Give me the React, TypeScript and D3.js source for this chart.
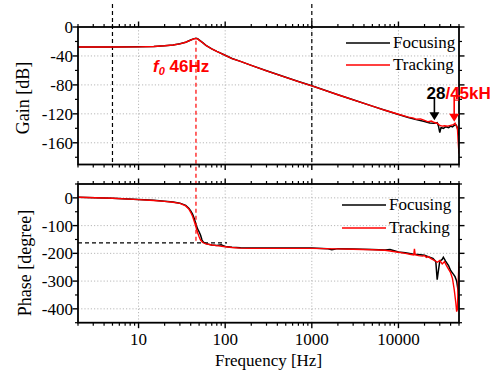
import React from "react";
import * as d3 from "d3";

// ---------- data ----------
const gainFocusing: [number, number][] = [
  [2, -27.6], [5, -27.5], [10, -27.3], [15, -26.8], [20, -25.9], [25, -24.8], [30, -23.2],
  [35, -21.0], [40, -18.0], [43, -16.4], [46, -15.6], [48, -16.2], [50, -17.9], [55, -21.6],
  [60, -25.4], [70, -30.3], [80, -33.7], [100, -39.0], [120, -43.5], [150, -47.5], [200, -53],
  [300, -60.5], [500, -69.5], [700, -75.3], [1000, -81.3], [1500, -88.5], [2000, -93.5],
  [3000, -100.5], [5000, -109.3], [7000, -115], [10000, -121], [13000, -125], [16000, -128],
  [20000, -130.5], [23000, -132.5], [26000, -133], [28000, -132], [29000, -137], [30000, -146],
  [31000, -139], [33000, -140], [35000, -138], [38000, -139], [40000, -137], [42000, -138],
  [44000, -136], [46000, -135], [47000, -137], [48000, -140], [49000, -146], [50000, -150],
];
const gainTracking: [number, number][] = [
  [2, -27.7], [5, -27.6], [10, -27.4], [15, -26.9], [20, -26.0], [25, -24.9], [30, -23.3],
  [35, -21.1], [40, -18.2], [43, -16.6], [46, -15.8], [48, -16.4], [50, -18.1], [55, -21.8],
  [60, -25.5], [70, -30.4], [80, -33.8], [100, -39.1], [120, -43.6], [150, -47.6], [200, -53.1],
  [300, -60.6], [500, -69.6], [700, -75.4], [1000, -81.4], [1500, -88.6], [2000, -93.6],
  [3000, -100.6], [5000, -109.4], [7000, -115.1], [10000, -120.5], [13000, -124.5], [15000, -126],
  [16000, -127.5], [18000, -127], [20000, -129], [22000, -131], [24000, -130], [26000, -132],
  [28000, -133], [30000, -136], [32000, -137], [34000, -136.5], [37000, -137], [40000, -136],
  [43000, -135], [45000, -133], [46000, -136], [47000, -137], [48000, -141], [49000, -160],
  [50000, -175],
];
const phaseFocusing: [number, number][] = [
  [2, 2.5], [5, -1], [10, -6], [15, -9], [20, -12], [25, -15], [30, -19], [35, -27], [38, -37],
  [40, -47], [42, -58], [44, -75], [46, -95], [48, -112], [50, -122], [52, -135], [54, -152],
  [56, -160], [60, -165], [70, -170], [80, -172], [90, -169], [95, -172], [100, -175],
  [120, -178], [150, -180], [200, -181], [500, -181], [1000, -181], [1500, -183], [1700, -187],
  [2000, -183], [3000, -184], [5000, -186], [7000, -188], [8000, -186], [10000, -195],
  [12000, -198], [15000, -203], [18000, -205], [20000, -207], [22000, -212], [25000, -218],
  [27000, -230], [28000, -295], [29000, -260], [30000, -228], [32000, -222], [33000, -214],
  [35000, -228], [38000, -245], [40000, -262], [43000, -275], [45000, -284], [47000, -300],
  [49000, -337], [50000, -367],
];
const phaseTracking: [number, number][] = [
  [2, 2], [5, -1.5], [10, -6.5], [15, -9.5], [20, -12.5], [25, -16], [30, -20], [35, -29],
  [38, -40], [40, -52], [42, -66], [44, -85], [46, -105], [48, -125], [50, -140], [52, -152],
  [55, -161], [60, -166], [70, -170], [80, -172], [100, -176], [120, -179], [150, -181],
  [200, -182], [500, -182], [1000, -182], [2000, -184], [3000, -185], [5000, -187],
  [7000, -189], [10000, -196], [12000, -200], [14000, -204], [15000, -206], [15300, -184],
  [15600, -205], [17000, -208], [19000, -210], [20000, -208], [21000, -215], [22000, -212],
  [24000, -220], [26000, -225], [28000, -232], [30000, -226], [32000, -238], [34000, -230],
  [36000, -245], [38000, -258], [40000, -270], [42000, -290], [44000, -330], [46000, -380],
  [47000, -410], [48000, -400], [49000, -300], [50000, -230],
];

const xMajor = [10, 100, 1000, 10000];
const gainMajor = [0, -40, -80, -120, -160];
const gainMinor = [-20, -60, -100, -140, -180];
const phaseMajor = [0, -100, -200, -300, -400];
const phaseMinor = [50, -50, -150, -250, -350, -450];
const seriesNames = ["Focusing", "Tracking"];
const seriesColors = ["#000000", "#ff0000"];

const W = 493, H = 372;
const L = 78, R = 459;
const gTop = 27, gBot = 164.5, pTop = 184, pBot = 322.7;
const serif = "'Liberation Serif', 'Times New Roman', serif";
const sans = "'Liberation Sans', Arial, sans-serif";

export default function App() {
  const x = d3.scaleLog().domain([2, 50000]).range([L, R]);
  const yG = d3.scaleLinear().domain([-190, 0]).range([gBot, gTop]);
  const yP = d3.scaleLinear().domain([-450, 50]).range([pBot, pTop]);

  const xMinor: number[] = [];
  for (let dec = 1; dec <= 10000; dec *= 10)
    for (let m = 1; m <= 9; m++) {
      const v = m * dec;
      if (v >= 2 && v <= 50000 && m !== 1) xMinor.push(v);
    }

  const lineG = d3.line<[number, number]>().x(d => x(d[0])).y(d => yG(d[1]));
  const lineP = d3.line<[number, number]>().x(d => x(d[0])).y(d => yP(d[1]));

  const grid = { stroke: "#b8b8b8", strokeWidth: 1, strokeDasharray: "1.2,2" };

  const panel = (top: number, bot: number, y: d3.ScaleLinear<number, number>, major: number[], minor: number[]) => (
    <g>
      {xMajor.map(v => <line key={"gx" + v} x1={x(v)} x2={x(v)} y1={top} y2={bot} {...grid} />)}
      {major.filter(v => y(v) > top + 1 && y(v) < bot - 1).map(v => <line key={"gy" + v} x1={L} x2={R} y1={y(v)} y2={y(v)} {...grid} />)}
      {xMinor.map(v => (
        <g key={"xm" + v}>
          <line x1={x(v)} x2={x(v)} y1={bot} y2={bot + 3} stroke="#000" strokeWidth={1.2} />
          <line x1={x(v)} x2={x(v)} y1={top} y2={top - 3} stroke="#000" strokeWidth={1.2} />
        </g>
      ))}
      {xMajor.map(v => (
        <g key={"xM" + v}>
          <line x1={x(v)} x2={x(v)} y1={bot} y2={bot + 5.5} stroke="#000" strokeWidth={1.4} />
          <line x1={x(v)} x2={x(v)} y1={top} y2={top - 5.5} stroke="#000" strokeWidth={1.4} />
        </g>
      ))}
      {minor.map(v => (
        <g key={"ym" + v}>
          <line x1={L} x2={L - 3} y1={y(v)} y2={y(v)} stroke="#000" strokeWidth={1.2} />
          <line x1={R} x2={R + 3} y1={y(v)} y2={y(v)} stroke="#000" strokeWidth={1.2} />
        </g>
      ))}
      {major.map(v => (
        <g key={"yM" + v}>
          <line x1={L} x2={L - 5.5} y1={y(v)} y2={y(v)} stroke="#000" strokeWidth={1.4} />
          <line x1={R} x2={R + 5.5} y1={y(v)} y2={y(v)} stroke="#000" strokeWidth={1.4} />
          <text x={L - 5} y={y(v)} dy="0.35em" textAnchor="end" fontFamily={serif} fontSize={17}>{v}</text>
        </g>
      ))}
    </g>
  );

  const legend = (x0: number, y0: number, dy: number) => (
    <g>
      {seriesNames.map((n, i) => (
        <g key={n}>
          <line x1={x0} x2={x0 + 44} y1={y0 + i * dy} y2={y0 + i * dy} stroke={seriesColors[i]} strokeWidth={1.5} />
          <text x={x0 + 47} y={y0 + i * dy} dy="0.32em" fontFamily={serif} fontSize={17}>{n}</text>
        </g>
      ))}
    </g>
  );

  const arrow = (xp: number, y1: number, y2: number, color: string) => (
    <g>
      <line x1={xp} x2={xp} y1={y1} y2={y2 - 6} stroke={color} strokeWidth={1.6} />
      <path d={`M${xp - 5},${y2 - 8} L${xp + 5},${y2 - 8} L${xp},${y2} Z`} fill={color} />
    </g>
  );

  return (
    <div style={{ position: "absolute", left: 0, top: 0 }}>
      <svg width={W} height={H} style={{ display: "block", background: "#fff" }}>
        <defs>
          <clipPath id="cg"><rect x={L} y={gTop} width={R - L} height={gBot - gTop} /></clipPath>
          <clipPath id="cp"><rect x={L} y={pTop} width={R - L} height={pBot - pTop} /></clipPath>
        </defs>
        {panel(gTop, gBot, yG, gainMajor, gainMinor)}
        {panel(pTop, pBot, yP, phaseMajor, phaseMinor)}

        <line x1={x(5)} x2={x(5)} y1={4} y2={gBot} stroke="#000" strokeWidth={1.2} strokeDasharray="4,3" />
        <line x1={x(1000)} x2={x(1000)} y1={4} y2={gBot} stroke="#000" strokeWidth={1.2} strokeDasharray="4,3" />
        <line x1={L} x2={x(105)} y1={yP(-162)} y2={yP(-162)} stroke="#000" strokeWidth={1.2} strokeDasharray="4,3" />

        <g clipPath="url(#cg)">
          <path d={lineG(gainFocusing) || ""} fill="none" stroke={seriesColors[0]} strokeWidth={1.5} />
          <path d={lineG(gainTracking) || ""} fill="none" stroke={seriesColors[1]} strokeWidth={1.4} />
        </g>
        <g clipPath="url(#cp)">
          <path d={lineP(phaseFocusing) || ""} fill="none" stroke={seriesColors[0]} strokeWidth={1.5} />
          <path d={lineP(phaseTracking) || ""} fill="none" stroke={seriesColors[1]} strokeWidth={1.4} />
        </g>

        <line x1={x(46)} x2={x(46)} y1={yG(-19)} y2={yP(-162)} stroke="#ff0000" strokeWidth={1.2} strokeDasharray="4,3" />

        <rect x={L} y={gTop} width={R - L} height={gBot - gTop} fill="none" stroke="#000" strokeWidth={1.8} />
        <rect x={L} y={pTop} width={R - L} height={pBot - pTop} fill="none" stroke="#000" strokeWidth={1.8} />

        {legend(346, 43, 22)}
        {legend(342, 205, 23)}

        <text x={153} y={72} fontFamily={sans} fontWeight="bold" fontSize={17} fill="#ff0000">
          <tspan fontStyle="italic">f</tspan>
          <tspan fontStyle="italic" fontSize={11} dy={3}>0</tspan>
          <tspan dy={-3}> 46Hz</tspan>
        </text>
        <text x={426.5} y={98.5} fontFamily={sans} fontWeight="bold" fontSize={17}>
          <tspan fill="#000">28</tspan>
          <tspan fill="#ff0000">/45kH</tspan>
        </text>
        {arrow(x(26000), yG(-99.5), yG(-129), "#000")}
        {arrow(x(44000), yG(-96), yG(-131), "#ff0000")}
        <line x1={x(44000)} x2={R} y1={yG(-101)} y2={yG(-101)} stroke="#ff0000" strokeWidth={1.2} />

        {xMajor.map(v => (
          <text key={"xl" + v} x={x(v)} y={345} textAnchor="middle" fontFamily={serif} fontSize={17}>{v}</text>
        ))}
        <text x={(L + R) / 2} y={366} textAnchor="middle" fontFamily={serif} fontSize={17}>Frequency [Hz]</text>
        <text transform={`translate(23.5,98) rotate(-90)`} dy="0.32em" textAnchor="middle" fontFamily={serif} fontSize={18}>Gain [dB]</text>
        <text transform={`translate(25.5,263) rotate(-90)`} dy="0.32em" textAnchor="middle" fontFamily={serif} fontSize={18}>Phase [degree]</text>
      </svg>
    </div>
  );
}
